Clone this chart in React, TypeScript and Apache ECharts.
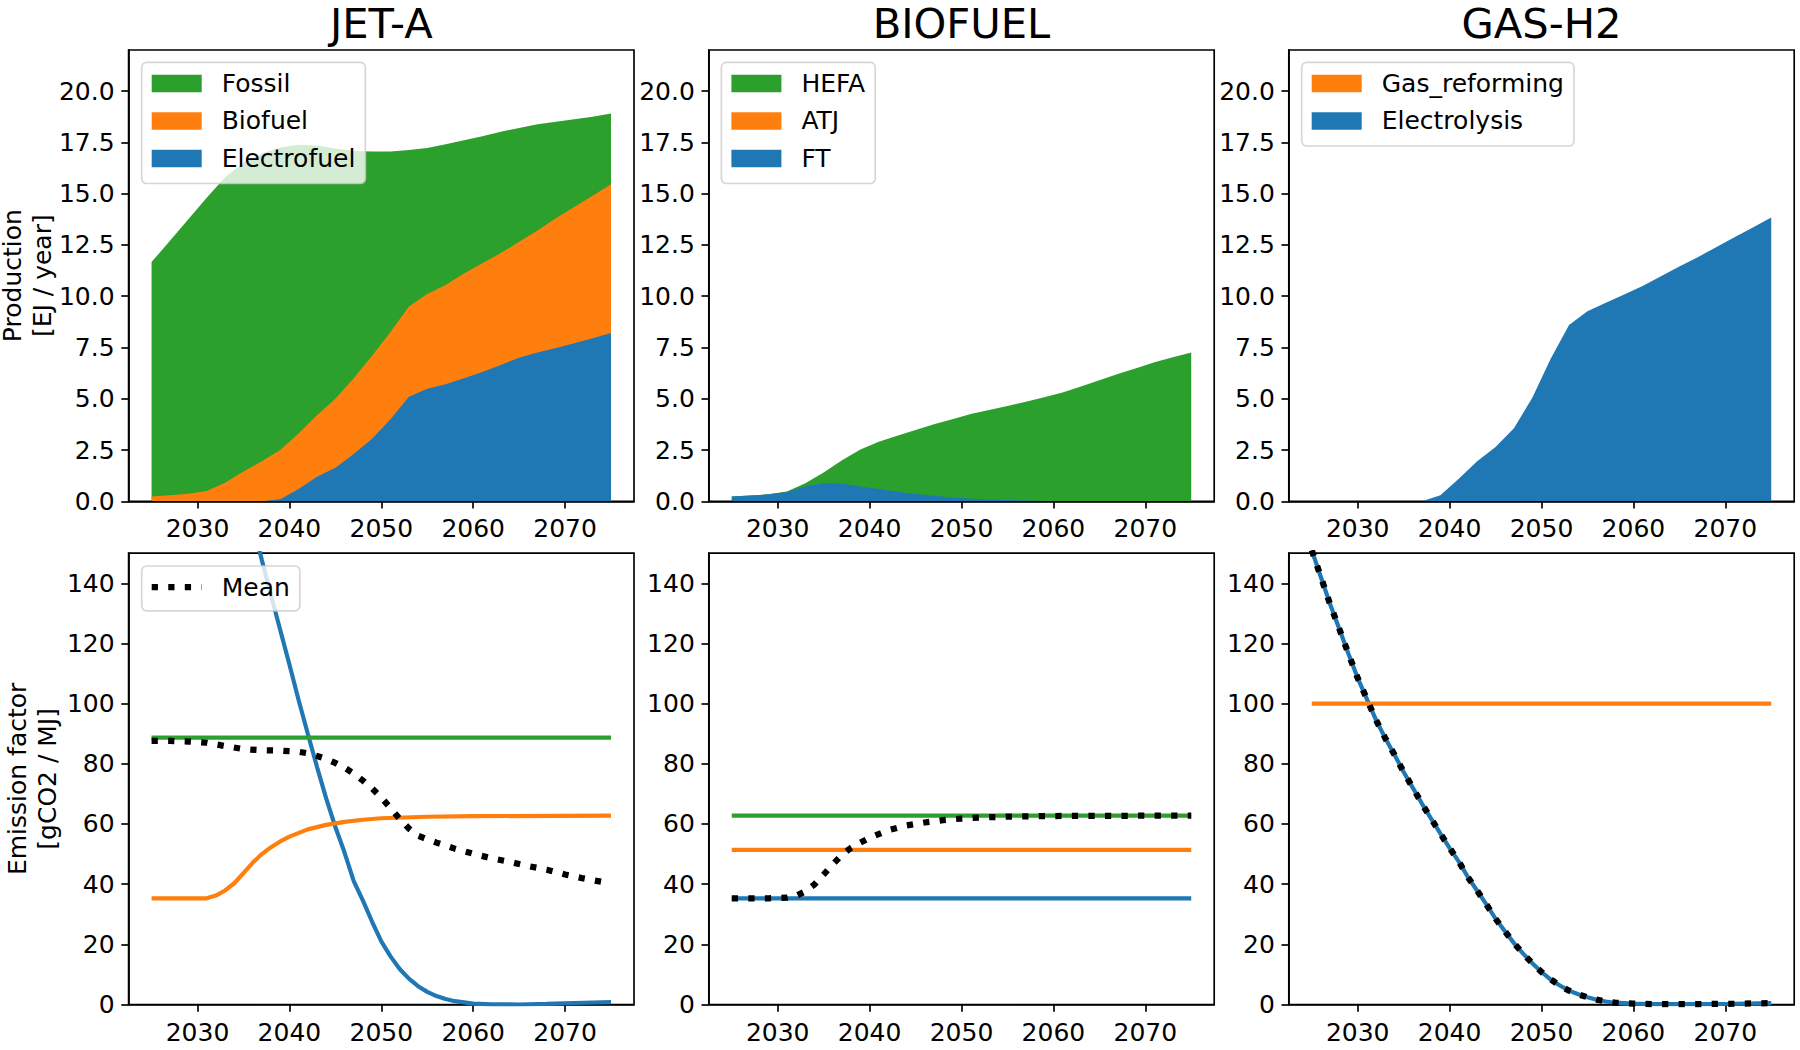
import React, { useEffect, useRef } from "react";
import * as echarts from "echarts";

const FONT = "DejaVu Sans";
const BLUE = "#1f77b4";
const ORANGE = "#ff7f0e";
const GREEN = "#2ca02c";

const PANEL_TITLES = ["JET-A", "BIOFUEL", "GAS-H2"];
const Y_NAME_LINES = [
  ["Production", "[EJ / year]"],
  ["Emission factor", "[gCO2 / MJ]"],
];

const X_TICKS = [2030, 2040, 2050, 2060, 2070];
const PROD_TICKS = [0, 2.5, 5, 7.5, 10, 12.5, 15, 17.5, 20];
const EF_TICKS = [0, 20, 40, 60, 80, 100, 120, 140];

// ---------- Production [EJ / year] (layer values, stacked bottom -> top) ----------
const YEARS = [2025, 2027, 2029, 2031, 2033, 2035, 2037, 2039, 2041, 2043, 2045, 2047, 2049,
  2051, 2053, 2055, 2057, 2059, 2061, 2063, 2065, 2067, 2069, 2071, 2073, 2075];

const JET_ELECTROFUEL = [0, 0, 0, 0, 0, 0, 0, 0.1, 0.6, 1.2, 1.63, 2.3, 3.05, 4.0, 5.1, 5.49, 5.7,
  6.0, 6.3, 6.65, 7.0, 7.25, 7.47, 7.7, 7.95, 8.2];
const JET_BIOFUEL = [0.23, 0.3, 0.37, 0.5, 0.9, 1.45, 1.95, 2.4, 2.7, 3.0, 3.37, 3.7, 4.05, 4.25,
  4.4, 4.61, 4.85, 5.1, 5.3, 5.45, 5.65, 5.95, 6.33, 6.65, 6.95, 7.25];
const JET_FOSSIL = [11.43, 12.4, 13.38, 14.3, 14.9, 15.05, 15.0, 14.75, 14.08, 13.15, 12.2, 11.08,
  9.95, 8.8, 7.62, 7.12, 6.85, 6.5, 6.2, 5.92, 5.55, 5.18, 4.7, 4.27, 3.85, 3.45];

const BIO_FT = [0.23, 0.28, 0.34, 0.45, 0.72, 0.88, 0.86, 0.72, 0.6, 0.47, 0.36, 0.27, 0.19, 0.13,
  0.09, 0.06, 0.04, 0.02, 0.01, 0, 0, 0, 0, 0, 0, 0];
const BIO_ATJ = [0, 0, 0, 0, 0, 0, 0, 0, 0, 0, 0, 0, 0, 0, 0, 0, 0, 0, 0, 0, 0, 0, 0, 0, 0, 0];
const BIO_HEFA = [0, 0, 0, 0.03, 0.16, 0.52, 1.14, 1.8, 2.3, 2.73, 3.11, 3.48, 3.81, 4.12, 4.36,
  4.59, 4.81, 5.05, 5.29, 5.6, 5.9, 6.2, 6.48, 6.78, 7.02, 7.25];

const H2_ELECTROLYSIS = [0, 0, 0, 0, 0, 0, 0, 0.29, 1.1, 1.95, 2.65, 3.56, 5.05, 6.95, 8.6, 9.26,
  9.68, 10.08, 10.5, 10.97, 11.44, 11.9, 12.38, 12.87, 13.35, 13.84];
const H2_GAS_REFORMING = [0, 0, 0, 0, 0, 0, 0, 0, 0, 0, 0, 0, 0, 0, 0, 0, 0, 0, 0, 0, 0, 0, 0, 0, 0, 0];

// ---------- Emission factors [gCO2 / MJ] ----------
const EF_FLAT_YEARS = [2025, 2075];

const EF_JET_FOSSIL = [88.7, 88.7];
const EF_JET_BIO_YEARS = [2025, 2031, 2032, 2033, 2034, 2035, 2036, 2037, 2038, 2039, 2040, 2042,
  2044, 2046, 2048, 2050, 2055, 2060, 2075];
const EF_JET_BIO = [35.25, 35.3, 36.2, 37.9, 40.3, 43.7, 47.1, 50.0, 52.3, 54.2, 55.8, 58.2, 59.7,
  60.7, 61.4, 61.9, 62.4, 62.6, 62.75];
const EF_JET_ELEC_YEARS = [2036, 2037, 2038, 2039, 2040, 2041, 2042, 2043, 2044, 2045, 2046, 2047,
  2048, 2049, 2050, 2051, 2052, 2053, 2054, 2055, 2056, 2057, 2058, 2060, 2062, 2065, 2068, 2071, 2075];
const EF_JET_ELEC = [160, 147.7, 136, 124.5, 113, 101.2, 90, 79, 68.5, 59, 50.5, 41, 34.5, 27.5, 21,
  16, 11.8, 8.6, 6.1, 4.2, 2.8, 1.8, 1.1, 0.3, 0.05, 0, 0.2, 0.5, 0.8];
const EF_JET_MEAN_YEARS = [2025, 2027, 2029, 2031, 2033, 2035, 2037, 2039, 2041, 2042, 2043, 2044,
  2045, 2046, 2047, 2048, 2049, 2050, 2051, 2052, 2053, 2054, 2055, 2056, 2058, 2060, 2062, 2064,
  2066, 2068, 2070, 2072, 2075];
const EF_JET_MEAN = [87.6, 87.6, 87.4, 87.0, 85.9, 84.9, 84.5, 84.4, 84.0, 83.5, 82.6, 81.6, 80.3,
  78.7, 76.8, 74.4, 71.8, 68.8, 65.3, 61.7, 58.5, 56.1, 54.9, 53.8, 51.8, 50.1, 48.6, 47.4, 46.0,
  44.8, 43.2, 41.9, 40.2];

const EF_BIO_HEFA = [62.75, 62.75];
const EF_BIO_ATJ = [51.4, 51.4];
const EF_BIO_FT = [35.25, 35.25];
const EF_BIO_MEAN_YEARS = [2025, 2027, 2029, 2031, 2032, 2033, 2034, 2035, 2036, 2037, 2038, 2039,
  2040, 2042, 2044, 2046, 2048, 2050, 2052, 2055, 2060, 2065, 2070, 2075];
const EF_BIO_MEAN = [35.3, 35.3, 35.3, 35.5, 36.1, 37.6, 39.9, 43.2, 46.6, 49.8, 52.1, 53.8, 55.4,
  57.9, 59.5, 60.5, 61.3, 61.8, 62.15, 62.45, 62.65, 62.7, 62.75, 62.75];

const EF_H2_GAS_REFORMING = [100, 100];
const EF_H2_ELEC_YEARS = [2025, 2026, 2027, 2028, 2029, 2030, 2031, 2032, 2033, 2034, 2035, 2036,
  2037, 2038, 2039, 2040, 2041, 2042, 2043, 2044, 2045, 2046, 2047, 2048, 2049, 2050, 2051, 2052,
  2053, 2054, 2055, 2056, 2057, 2058, 2060, 2062, 2065, 2068, 2071, 2075];
const EF_H2_ELEC = [151, 142, 133, 124.8, 116.5, 108.5, 101.5, 94.5, 88.5, 83, 77.3, 72, 66.7, 61.7,
  56.8, 52, 47.5, 42.3, 37.8, 33.3, 28.5, 24.4, 20.4, 16.9, 13.7, 10.8, 8.3, 6.3, 4.6, 3.4, 2.4,
  1.6, 1.0, 0.6, 0.3, 0.15, 0.1, 0.15, 0.25, 0.45];
// mean of GAS-H2 equals electrolysis (reforming production is zero)
const EF_H2_MEAN = EF_H2_ELEC;

// ---------- layout ----------
const GRID_LEFTS = [128.6, 708.8, 1288.8];
const GRID_WIDTH = 505.4;
const ROW_TOPS = [50, 553.2];
const ROW_HEIGHT = 451.3;
const FS = 25; // matplotlib 12pt at 150 dpi
const MEAN_ICON =
  "path://M0,0h6.25v6.25h-6.25z M16.55,0h6.25v6.25h-6.25z M33.1,0h6.25v6.25h-6.25z M49.65,0h0.35v6.25h-0.35z";

// cumulative sums of stacked layers (stackplot)
const cum = (...layers: number[][]) =>
  YEARS.map((_, i) => layers.reduce((s, a) => s + a[i], 0));

function buildOption() {
  const grid: any[] = [];
  const xAxis: any[] = [];
  const yAxis: any[] = [];
  for (let r = 0; r < 2; r++) {
    for (let c = 0; c < 3; c++) {
      const idx = r * 3 + c;
      grid.push({
        left: GRID_LEFTS[c],
        top: ROW_TOPS[r],
        width: GRID_WIDTH,
        height: ROW_HEIGHT,
        show: true,
        borderColor: "#000",
        borderWidth: 1.67,
        backgroundColor: "transparent",
        containLabel: false,
        outerBoundsMode: "none",
      });
      xAxis.push({
        gridIndex: idx,
        type: "value",
        min: 2022.5,
        max: 2077.5,
        axisLine: { show: true, onZero: false, lineStyle: { color: "#000", width: 1.67 } },
        axisTick: {
          show: true,
          inside: false,
          length: 7.3,
          lineStyle: { color: "#000", width: 1.67 },
          customValues: X_TICKS,
        },
        axisLabel: {
          show: true,
          customValues: X_TICKS,
          fontSize: FS,
          fontFamily: FONT,
          color: "#000",
          margin: 15,
          formatter: (v: number) => String(v),
        },
        splitLine: { show: false },
      });
      const ticks = r === 0 ? PROD_TICKS : EF_TICKS;
      yAxis.push({
        gridIndex: idx,
        type: "value",
        min: 0,
        max: r === 0 ? 22 : 150,
        name: c === 0 ? `{a|${Y_NAME_LINES[r][0]}}\n{b|${Y_NAME_LINES[r][1]}}` : "",
        nameLocation: "middle",
        nameRotate: 90,
        nameGap: r === 0 ? 65.8 : 60.7,
        nameTextStyle: {
          fontSize: FS,
          fontFamily: FONT,
          color: "#000",
          rich: {
            a: { fontSize: FS, fontFamily: FONT, color: "#000", lineHeight: 19.5 },
            b: { fontSize: FS, fontFamily: FONT, color: "#000", lineHeight: 40.5 },
          },
        },
        axisLine: { show: true, onZero: false, lineStyle: { color: "#000", width: 1.67 } },
        axisTick: {
          show: true,
          inside: false,
          length: 7.3,
          lineStyle: { color: "#000", width: 1.67 },
          customValues: ticks,
        },
        axisLabel: {
          show: true,
          customValues: ticks,
          fontSize: FS,
          fontFamily: FONT,
          color: "#000",
          margin: 14,
          formatter: (v: number) => (r === 0 ? v.toFixed(1) : String(v)),
        },
        splitLine: { show: false },
      });
    }
  }

  // each stacked layer drawn as its cumulative top filled down to zero; upper layers first
  const area = (name: string, layer: number[], top: number[], color: string, idx: number) => ({
    type: "line",
    name,
    xAxisIndex: idx,
    yAxisIndex: idx,
    data: YEARS.map((y, i) => [y, top[i]]),
    symbol: "none",
    showSymbol: false,
    smooth: false,
    color,
    itemStyle: { color },
    lineStyle: { width: 0 },
    // a layer that is zero everywhere has no visible band
    areaStyle: { color, opacity: layer.some((v) => v > 0) ? 1 : 0, origin: "start" },
    silent: true,
    z: 2,
  });

  const line = (
    name: string,
    xs: number[],
    ys: number[],
    color: string,
    idx: number,
    dotted = false
  ) => ({
    type: "line",
    name,
    xAxisIndex: idx,
    yAxisIndex: idx,
    data: xs.map((x, i) => [x, ys[i]]),
    symbol: "none",
    showSymbol: false,
    smooth: false,
    clip: true,
    color,
    itemStyle: { color },
    lineStyle: dotted
      ? { width: 6.25, color, type: [6.25, 10.3], cap: "butt" }
      : { width: 4.17, color, type: "solid", cap: "butt" },
    silent: true,
    z: dotted ? 3 : 2,
  });

  const series = [
    area("Fossil", JET_FOSSIL, cum(JET_ELECTROFUEL, JET_BIOFUEL, JET_FOSSIL), GREEN, 0),
    area("Biofuel", JET_BIOFUEL, cum(JET_ELECTROFUEL, JET_BIOFUEL), ORANGE, 0),
    area("Electrofuel", JET_ELECTROFUEL, cum(JET_ELECTROFUEL), BLUE, 0),

    area("HEFA", BIO_HEFA, cum(BIO_FT, BIO_ATJ, BIO_HEFA), GREEN, 1),
    area("ATJ", BIO_ATJ, cum(BIO_FT, BIO_ATJ), ORANGE, 1),
    area("FT", BIO_FT, cum(BIO_FT), BLUE, 1),

    area("Gas_reforming", H2_GAS_REFORMING, cum(H2_ELECTROLYSIS, H2_GAS_REFORMING), ORANGE, 2),
    area("Electrolysis", H2_ELECTROLYSIS, cum(H2_ELECTROLYSIS), BLUE, 2),

    line("EF Electrofuel", EF_JET_ELEC_YEARS, EF_JET_ELEC, BLUE, 3),
    line("EF Biofuel", EF_JET_BIO_YEARS, EF_JET_BIO, ORANGE, 3),
    line("EF Fossil", EF_FLAT_YEARS, EF_JET_FOSSIL, GREEN, 3),
    line("Mean", EF_JET_MEAN_YEARS, EF_JET_MEAN, "#000", 3, true),

    line("EF FT", EF_FLAT_YEARS, EF_BIO_FT, BLUE, 4),
    line("EF ATJ", EF_FLAT_YEARS, EF_BIO_ATJ, ORANGE, 4),
    line("EF HEFA", EF_FLAT_YEARS, EF_BIO_HEFA, GREEN, 4),
    line("Mean BIOFUEL", EF_BIO_MEAN_YEARS, EF_BIO_MEAN, "#000", 4, true),

    line("EF Electrolysis", EF_H2_ELEC_YEARS, EF_H2_ELEC, BLUE, 5),
    line("EF Gas_reforming", EF_FLAT_YEARS, EF_H2_GAS_REFORMING, ORANGE, 5),
    line("Mean GAS-H2", EF_H2_ELEC_YEARS, EF_H2_MEAN, "#000", 5, true),
  ];

  const legendBase = {
    orient: "vertical",
    itemGap: 12.5,
    itemWidth: 50,
    itemHeight: 17.5,
    icon: "rect",
    selectedMode: false,
    backgroundColor: "rgba(255,255,255,0.8)",
    borderColor: "rgba(204,204,204,0.8)",
    borderWidth: 1.67,
    borderRadius: 5,
    itemStyle: { borderWidth: 0 },
    textStyle: {
      fontSize: FS,
      fontFamily: FONT,
      color: "#000",
      lineHeight: 24.2,
      padding: [0, 0, 0, 15],
    },
  };

  const legend = [
    {
      ...legendBase,
      data: ["Fossil", "Biofuel", "Electrofuel"],
      left: 141.7,
      top: 62.3,
      padding: [8.6, 10, 12.6, 10],
    },
    {
      ...legendBase,
      data: ["HEFA", "ATJ", "FT"],
      left: 721.4,
      top: 62.3,
      padding: [8.6, 10, 12.6, 10],
    },
    {
      ...legendBase,
      data: ["Gas_reforming", "Electrolysis"],
      left: 1301.7,
      top: 62.3,
      padding: [8.6, 10, 12.6, 10],
    },
    {
      ...legendBase,
      data: [{ name: "Mean", icon: MEAN_ICON }],
      left: 141.7,
      top: 566,
      itemWidth: 50,
      itemHeight: 6.25,
      padding: [8.6, 10, 11.2, 10],
    },
  ];

  const title = PANEL_TITLES.map((t, i) => ({
    text: t,
    left: GRID_LEFTS[i] + GRID_WIDTH / 2,
    top: 2.7,
    padding: 0,
    textAlign: "center",
    textStyle: { fontSize: 41.67, fontWeight: "normal", fontFamily: FONT, color: "#000" },
  }));

  return {
    animation: false,
    backgroundColor: "#fff",
    textStyle: { fontFamily: FONT },
    title,
    legend,
    grid,
    xAxis,
    yAxis,
    series,
  };
}

export default function App() {
  const ref = useRef<HTMLDivElement>(null);
  useEffect(() => {
    document.body.style.margin = "0";
    const chart = echarts.init(ref.current as HTMLDivElement, null, { renderer: "svg" });
    chart.setOption(buildOption() as any);
    return () => chart.dispose();
  }, []);
  return <div ref={ref} style={{ width: 1800, height: 1050 }} />;
}
